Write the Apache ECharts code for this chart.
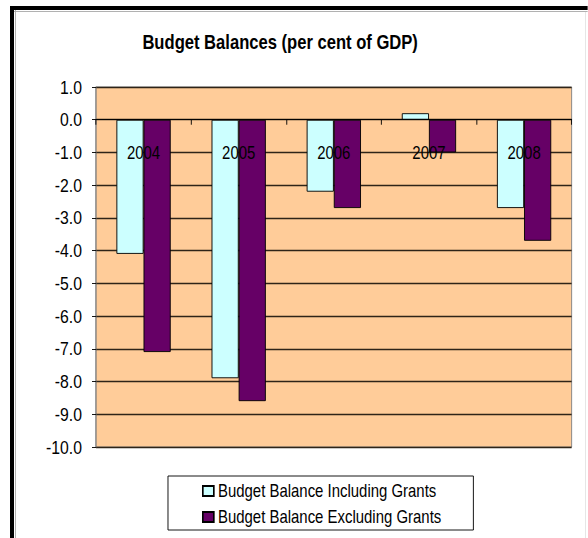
<!DOCTYPE html>
<html>
<head>
<meta charset="utf-8">
<script src="https://cdn.jsdelivr.net/npm/echarts@6/dist/echarts.min.js"></script>
<style>
  html, body { margin: 0; padding: 0; background: #ffffff; overflow: hidden; }
  #wrap { width: 588px; height: 538px; overflow: hidden; position: relative; }
  /* the chart uses a condensed type face look: it is laid out wider and squeezed horizontally */
  #chart { position: absolute; left: 0; top: 0; height: 538px; transform-origin: 0 0; }
</style>
</head>
<body>
<div id="wrap"><div id="chart"></div></div>
<script>
// Budget balances, per cent of GDP
const years = ['2004', '2005', '2006', '2007', '2008'];
const includingGrants = [-4.1, -7.9, -2.2, 0.2, -2.7];
const excludingGrants = [-7.1, -8.6, -2.7, -1.0, -3.7];
const seriesNames = ['Budget Balance Including Grants', 'Budget Balance Excluding Grants'];

// horizontal squeeze factor and a helper turning on-screen x pixels into layout pixels
const SQUEEZE = 0.83;
const X = px => px / SQUEEZE;

const el = document.getElementById('chart');
el.style.width = X(588) + 'px';
el.style.transform = 'scaleX(' + SQUEEZE + ')';

const FONT = "'Liberation Sans', Arial, sans-serif";

const chart = echarts.init(el, null, { renderer: 'svg' });

chart.setOption({
  backgroundColor: '#ffffff',
  animation: false,
  title: {
    text: 'Budget Balances (per cent of GDP)',
    left: X(276),
    top: 27,
    textAlign: 'center',
    textStyle: { fontFamily: FONT, fontSize: 20, fontWeight: 'bold', color: '#000' }
  },
  grid: {
    left: X(96), right: X(16), top: 87, bottom: 91,
    show: true,
    backgroundColor: '#FFCC99',
    borderColor: '#808080',
    borderWidth: 1
  },
  legend: {
    orient: 'vertical',
    left: X(168),
    top: 476,
    padding: [5, X(32), 3, X(34)],
    itemGap: 6,
    itemWidth: X(11),
    itemHeight: 10,
    icon: 'rect',
    borderColor: '#000',
    borderWidth: 1,
    textStyle: { fontFamily: FONT, fontSize: 18, color: '#000', lineHeight: 20 },
    data: seriesNames
  },
  xAxis: {
    type: 'category',
    data: years,
    z: 10,
    axisLine: { onZero: true, lineStyle: { color: '#000', width: 1 } },
    axisTick: { show: true, length: 5, lineStyle: { color: '#000' } },
    // year labels sit just under the zero line, inside the plot
    axisLabel: { margin: -303, fontFamily: FONT, fontSize: 18, color: '#000' },
    splitLine: { show: false }
  },
  yAxis: {
    type: 'value',
    min: -10,
    max: 1,
    interval: 1,
    axisLine: { show: true, lineStyle: { color: '#808080' } },
    axisTick: { show: true, length: X(4), lineStyle: { color: '#000' } },
    axisLabel: {
      margin: X(14),
      fontFamily: FONT,
      fontSize: 19,
      color: '#000',
      formatter: v => v.toFixed(1)
    },
    splitLine: { show: true, lineStyle: { color: '#2e2418', width: 1.3 } }
  },
  series: [
    {
      name: seriesNames[0],
      type: 'bar',
      data: includingGrants,
      barGap: '0%',
      barCategoryGap: '43%',
      itemStyle: { color: '#CCFFFF', borderColor: '#000', borderWidth: 1 }
    },
    {
      name: seriesNames[1],
      type: 'bar',
      data: excludingGrants,
      barGap: '0%',
      barCategoryGap: '43%',
      itemStyle: { color: '#660066', borderColor: '#000', borderWidth: 1 }
    }
  ],
  graphic: [
    // outer frame: heavy black top and left edges with a thin grey inner line
    { type: 'rect', shape: { x: X(10), y: 6, width: X(578), height: 4 }, style: { fill: '#000' }, silent: true },
    { type: 'rect', shape: { x: X(10), y: 6, width: X(4), height: 532 }, style: { fill: '#000' }, silent: true },
    { type: 'line', shape: { x1: X(14), y1: 11.5, x2: X(588), y2: 11.5 }, style: { stroke: '#aaaaaa', lineWidth: 1 }, silent: true },
    { type: 'line', shape: { x1: X(15.5), y1: 10, x2: X(15.5), y2: 538 }, style: { stroke: '#aaaaaa', lineWidth: 1 }, silent: true },
    { type: 'line', shape: { x1: X(585.5), y1: 12, x2: X(585.5), y2: 538 }, style: { stroke: '#e4e4e4', lineWidth: 1 }, silent: true }
  ]
});
</script>
</body>
</html>
